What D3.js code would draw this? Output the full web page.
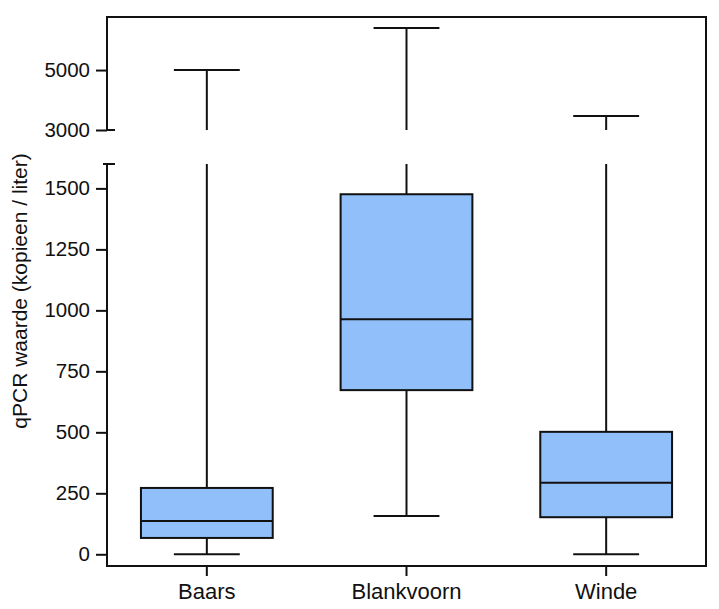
<!DOCTYPE html>
<html>
<head>
<meta charset="utf-8">
<script src="https://cdn.jsdelivr.net/npm/d3@7"></script>
<style>
  body { margin: 0; background: #fff; }
  svg text { font-family: "Liberation Sans", Arial, sans-serif; fill: #111; }
</style>
</head>
<body>
<div id="grafico"></div>
<script>
// data
const categories = ["Baars", "Blankvoorn", "Winde"];
const minVals = [0, 157, 0];
const q1Vals = [67, 673, 152];
const medianVals = [136, 964, 293];
const q3Vals = [272, 1476, 502];
const maxVals = [5000, 6400, 3470];
const lowTicks = [0, 250, 500, 750, 1000, 1250, 1500];
const highTicks = [3000, 5000];
const LOW_MAX = 1600;   // top of the lower segment
const HIGH_MIN = 3000;  // bottom of the upper segment

const WIDTH = 719;
const HEIGHT = 609;
const LEFT = 107, RIGHT = 706, TOP = 17, BOTTOM = 566;
const LOW_TOP = 164, HIGH_BOTTOM = 130;

const SVG = d3.select("#grafico").append("svg").attr("width", WIDTH).attr("height", HEIGHT);

const escalaX = d3.scaleBand()
    .domain(categories)
    .range([LEFT, RIGHT])
    .paddingInner(0.34)
    .paddingOuter(0.17);

const yLow = d3.scaleLinear().domain([-48, LOW_MAX]).range([BOTTOM, LOW_TOP]);
const yHigh = d3.scaleLinear().domain([HIGH_MIN, 6770]).range([HIGH_BOTTOM, TOP]);
const yPos = v => v <= LOW_MAX ? yLow(v) : yHigh(v);

const datos = categories.map((c, i) => ({
    cat: c, min: minVals[i], q1: q1Vals[i], med: medianVals[i], q3: q3Vals[i], max: maxVals[i]
}));

const lineas = SVG.append("g").attr("stroke", "#111").attr("stroke-width", 2).attr("fill", "none");

// marco: arriba, derecha, abajo y eje izquierdo partido
lineas.append("path")
    .attr("d", "M" + LEFT + "," + yHigh(HIGH_MIN) + "V" + TOP + "H" + RIGHT + "V" + BOTTOM + "H" + LEFT + "V" + yLow(LOW_MAX));
lineas.append("line")
    .attr("x1", LEFT - 4).attr("x2", LEFT + 8)
    .attr("y1", yLow(LOW_MAX)).attr("y2", yLow(LOW_MAX));
lineas.append("line")
    .attr("x1", LEFT).attr("x2", LEFT + 8)
    .attr("y1", yHigh(HIGH_MIN)).attr("y2", yHigh(HIGH_MIN));

// bigotes y cajas
const cajas = SVG.append("g");
datos.forEach(function(d) {
    const cx = escalaX(d.cat) + escalaX.bandwidth() / 2;
    const capW = escalaX.bandwidth() / 4;
    const g = cajas.append("g").attr("stroke", "#111").attr("stroke-width", 2);

    // bigote inferior
    g.append("line").attr("x1", cx).attr("x2", cx).attr("y1", yPos(d.q1)).attr("y2", yPos(d.min));
    g.append("line").attr("x1", cx - capW).attr("x2", cx + capW).attr("y1", yPos(d.min)).attr("y2", yPos(d.min));

    // bigote superior (partido si pasa el corte)
    if (d.max > LOW_MAX) {
        g.append("line").attr("x1", cx).attr("x2", cx).attr("y1", yLow(d.q3)).attr("y2", yLow(LOW_MAX));
        g.append("line").attr("x1", cx).attr("x2", cx).attr("y1", yHigh(HIGH_MIN)).attr("y2", yHigh(d.max));
    } else {
        g.append("line").attr("x1", cx).attr("x2", cx).attr("y1", yLow(d.q3)).attr("y2", yLow(d.max));
    }
    g.append("line").attr("x1", cx - capW).attr("x2", cx + capW).attr("y1", yPos(d.max)).attr("y2", yPos(d.max));

    // caja
    g.append("rect")
        .attr("x", escalaX(d.cat))
        .attr("y", yPos(d.q3))
        .attr("width", escalaX.bandwidth())
        .attr("height", yPos(d.q1) - yPos(d.q3))
        .attr("fill", "#91bff9");
    g.append("line")
        .attr("x1", escalaX(d.cat)).attr("x2", escalaX(d.cat) + escalaX.bandwidth())
        .attr("y1", yPos(d.med)).attr("y2", yPos(d.med));
});

// ejes
function estiloEje(sel, size) {
    sel.select(".domain").remove();
    sel.selectAll(".tick line").attr("stroke", "#111").attr("stroke-width", 2);
    sel.selectAll(".tick text").style("font-size", size + "px").attr("fill", "#111");
}

SVG.append("g")
    .attr("transform", "translate(" + LEFT + ",0)")
    .call(d3.axisLeft(yLow).tickValues(lowTicks).tickFormat(d3.format("d")).tickSize(11).tickPadding(6))
    .call(estiloEje, 20.5);

SVG.append("g")
    .attr("transform", "translate(" + LEFT + ",0)")
    .call(d3.axisLeft(yHigh).tickValues(highTicks).tickFormat(d3.format("d")).tickSize(11).tickPadding(6))
    .call(estiloEje, 20.5);

SVG.append("g")
    .attr("transform", "translate(0," + BOTTOM + ")")
    .call(d3.axisBottom(escalaX).tickSize(10).tickPadding(7))
    .call(estiloEje, 22);

SVG.append("text")
    .attr("transform", "translate(27," + 291 + ") rotate(-90)")
    .attr("text-anchor", "middle")
    .style("font-size", "21px")
    .text("qPCR waarde (kopieen / liter)");
</script>
</body>
</html>
